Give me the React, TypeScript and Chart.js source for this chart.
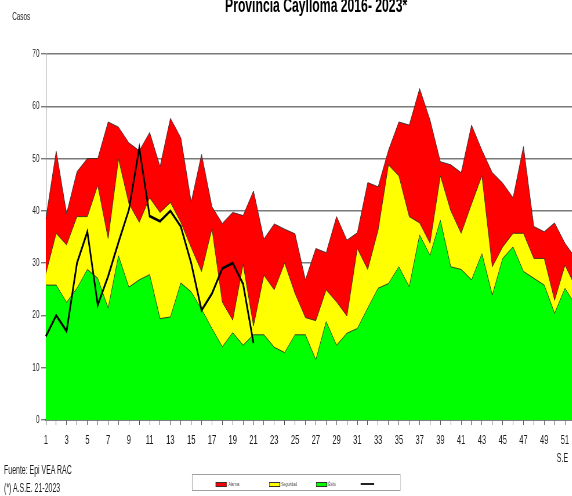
import React, { useEffect, useRef } from 'react';
import { Chart, registerables } from 'chart.js';

Chart.register(...registerables);

// Semanas epidemiológicas
const weeks = [
  '1', '2', '3', '4', '5', '6', '7', '8', '9', '10', '11', '12', '13',
  '14', '15', '16', '17', '18', '19', '20', '21', '22', '23', '24', '25', '26',
  '27', '28', '29', '30', '31', '32', '33', '34', '35', '36', '37', '38', '39',
  '40', '41', '42', '43', '44', '45', '46', '47', '48', '49', '50', '51', '52',
];

// Zona de alarma (límite superior)
const alarma = [
  38.5, 51.4, 39.5, 47.5, 50, 50, 57, 56, 53, 51.5, 55, 48.5, 57.7,
  54, 41.7, 50.8, 40.8, 37.6, 39.7, 39.1, 43.8, 34.6, 37.5, 36.5, 35.6, 26.8,
  32.8, 32, 38.9, 34.4, 35.8, 45.4, 44.6, 51.6, 57, 56.4, 63.4, 57.4, 49.4,
  48.8, 47.3, 56.4, 51.6, 47.3, 45.3, 42.5, 52.3, 37, 36, 37.7, 33.8, 31,
];

// Zona de seguridad
const seguridad = [
  28, 35.7, 33.5, 38.9, 38.9, 44.9, 34.7, 49.9, 41.4, 37.8, 42.5, 39.7, 41.6,
  37.8, 33, 28.4, 36.6, 22.5, 19.1, 29.8, 18, 27.7, 24.9, 30, 24.2, 19.6,
  19, 24.9, 22.6, 19.9, 32.8, 28.8, 36.3, 48.8, 46.7, 38.9, 37.7, 33.8, 46.7,
  40, 35.7, 41.3, 46.7, 29.3, 33.1, 35.7, 35.7, 30.9, 30.9, 22.9, 29.6, 25.5,
];

// Zona de éxito
const exito = [
  25.8, 25.8, 22.5, 25.2, 28.8, 27.1, 21.4, 31.4, 25.4, 26.8, 27.8, 19.4, 19.7,
  26.2, 24.5, 21.2, 17.5, 14, 16.7, 14.3, 16.3, 16.3, 13.9, 12.9, 16.3, 16.3,
  11.5, 18.8, 14.3, 16.6, 17.5, 21.4, 25.2, 26.1, 29.3, 25.5, 35.4, 31.5, 38.2,
  29.3, 28.8, 26.8, 31.8, 23.9, 30.9, 33.1, 28.4, 27.1, 25.8, 20.4, 25.2, 22,
];

// Casos 2023 (hasta S.E. 21)
const casos2023 = [
  16, 20, 17, 30, 36, 22, 27.5, 34, 40.2, 52, 39, 38, 40,
  37, 30, 21, 24.2, 29, 30, 26, 14.7,
];

const yTicks = [0, 10, 20, 30, 40, 50, 60, 70];

const S = 0.58; // horizontal compression of the original picture
const W = 1000;
const H = 496;
const FONT = 'Arial, "Liberation Sans", sans-serif';

export default function App() {
  const ref = useRef<HTMLCanvasElement>(null);

  useEffect(() => {
    const edge = 'rgba(40,40,40,0.85)';
    const chart = new Chart(ref.current as HTMLCanvasElement, {
      type: 'line',
      data: {
        labels: weeks,
        datasets: [
          {
            label: '2023',
            data: casos2023,
            borderColor: '#000000',
            borderWidth: 2.8,
            pointRadius: 0,
            fill: false,
            tension: 0,
          },
          {
            label: 'Éxito',
            data: exito,
            borderColor: edge,
            borderWidth: 1,
            backgroundColor: '#00FF00',
            pointRadius: 0,
            fill: 'origin',
            tension: 0,
          },
          {
            label: 'Seguridad',
            data: seguridad,
            borderColor: edge,
            borderWidth: 1,
            backgroundColor: '#FFFF00',
            pointRadius: 0,
            fill: 'origin',
            tension: 0,
          },
          {
            label: 'Alarma',
            data: alarma,
            borderColor: edge,
            borderWidth: 1,
            backgroundColor: '#FF0000',
            pointRadius: 0,
            fill: 'origin',
            tension: 0,
          },
        ],
      },
      options: {
        responsive: false,
        devicePixelRatio: 1,
        animation: false,
        layout: { padding: { top: 54, right: 3, left: 0, bottom: 0 } },
        plugins: {
          legend: { display: false },
          title: { display: false },
          tooltip: { enabled: false },
        },
        scales: {
          x: {
            type: 'category',
            offset: false,
            afterFit: (s: any) => {
              s.height = 76;
            },
            grid: {
              display: true,
              drawOnChartArea: false,
              drawTicks: true,
              tickLength: 5,
              color: '#555555',
            },
            border: { display: true, color: '#444444', width: 1.5 },
            ticks: {
              autoSkip: false,
              maxRotation: 0,
              minRotation: 0,
              padding: 8,
              color: '#1a1a1a',
              font: { family: FONT, size: 13 },
              callback: (_v: any, i: number) => (i % 2 === 0 ? weeks[i] : ''),
            },
          },
          y: {
            min: yTicks[0],
            max: yTicks[yTicks.length - 1],
            afterFit: (s: any) => {
              s.width = 79;
            },
            afterBuildTicks: (s: any) => {
              s.ticks = yTicks.map((v) => ({ value: v }));
            },
            grid: {
              color: '#7a7a7a',
              lineWidth: 1.4,
              drawTicks: true,
              tickLength: 8,
            },
            border: { display: true, color: '#8a8a8a', width: 1 },
            ticks: {
              padding: 3,
              color: '#1a1a1a',
              font: { family: FONT, size: 11 },
            },
          },
        },
      },
    });
    return () => chart.destroy();
  }, []);

  const txt = (extra: React.CSSProperties): React.CSSProperties => ({
    position: 'absolute',
    whiteSpace: 'nowrap',
    color: '#1a1a1a',
    fontFamily: FONT,
    ...extra,
  });

  const bx = 332; // legend inner origin (unscaled)
  const by = 475;

  return (
    <div
      style={{
        position: 'fixed',
        left: 0,
        top: 0,
        width: 572,
        height: 496,
        overflow: 'hidden',
        background: '#ffffff',
      }}
    >
      <div
        style={{
          position: 'absolute',
          left: 0,
          top: 0,
          width: W,
          height: H,
          transform: `scaleX(${S})`,
          transformOrigin: '0 0',
        }}
      >
        <canvas ref={ref} width={W} height={H} style={{ position: 'absolute', left: 0, top: 0 }} />

        <div
          style={txt({
            left: 245,
            top: -6,
            width: 600,
            textAlign: 'center',
            fontWeight: 'bold',
            fontSize: 21,
            lineHeight: '21px',
            color: '#000',
          })}
        >
          Provincia Caylloma 2016- 2023*
        </div>
        <div style={txt({ left: 21, top: 10.7, fontSize: 11, lineHeight: '11px' })}>Casos</div>
        <div style={txt({ left: 960, top: 451.8, fontSize: 12, lineHeight: '12px' })}>S.E</div>
        <div style={txt({ left: 7, top: 463.8, fontSize: 12, lineHeight: '12px' })}>Fuente: Epi VEA RAC</div>
        <div style={txt({ left: 7, top: 481.8, fontSize: 12, lineHeight: '12px' })}>(*) A.S.E. 21-2023</div>

        <div
          style={{
            position: 'absolute',
            left: bx - 1,
            top: by - 1,
            width: 360,
            height: 17,
            border: '1px solid #a0a0a0',
            boxSizing: 'border-box',
            background: '#fff',
          }}
        />
        {[
          { c: '#FF0000', l: 'Alarma', sx: 40, lx: 62 },
          { c: '#FFFF00', l: 'Seguridad', sx: 132, lx: 153 },
          { c: '#00FF00', l: 'Éxito', sx: 213, lx: 234 },
        ].map((it) => (
          <React.Fragment key={it.l}>
            <div
              style={{
                position: 'absolute',
                left: bx + it.sx,
                top: by + 6.5,
                width: 19,
                height: 5,
                background: it.c,
                border: '1px solid #333',
                boxSizing: 'border-box',
              }}
            />
            <div style={txt({ left: bx + it.lx, top: by + 6, fontSize: 6, lineHeight: '6px', color: '#444' })}>
              {it.l}
            </div>
          </React.Fragment>
        ))}
        <div
          style={{
            position: 'absolute',
            left: bx + 290,
            top: by + 8,
            width: 23,
            height: 2,
            background: '#222',
          }}
        />
      </div>
    </div>
  );
}
